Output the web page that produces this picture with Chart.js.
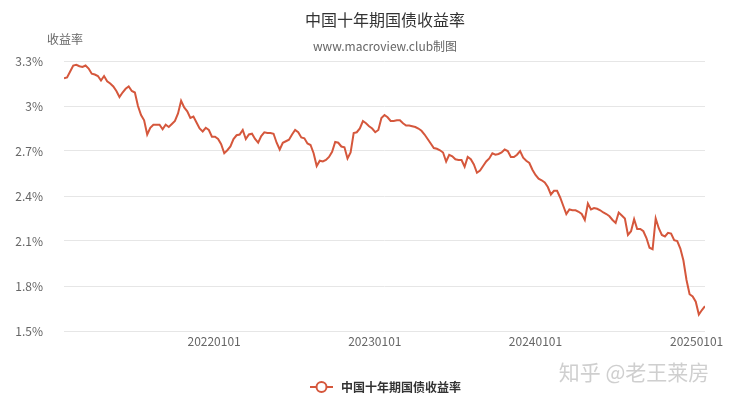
<!DOCTYPE html>
<html>
<head>
<meta charset="utf-8">
<script src="https://cdn.jsdelivr.net/npm/chart.js@4.4.1/dist/chart.umd.min.js"></script>
<style>
  html, body { margin: 0; padding: 0; background: #fff; }
</style>
</head>
<body>
<canvas id="graph" width="732" height="401"></canvas>
<script>
// weekly readings, first week starting 2021-01-25
const startDate = '20210125';
const seriesName = '中国十年期国债收益率';
const yields = [
  3.185, 3.19, 3.23, 3.27, 3.275, 3.265, 3.26, 3.27, 3.25, 3.215,
  3.21, 3.20, 3.17, 3.20, 3.165, 3.15, 3.13, 3.10, 3.06, 3.09,
  3.115, 3.13, 3.10, 3.09, 3.00, 2.94, 2.905, 2.81, 2.855, 2.875,
  2.875, 2.875, 2.845, 2.875, 2.86, 2.88, 2.90, 2.95, 3.035, 2.99,
  2.965, 2.92, 2.93, 2.89, 2.85, 2.83, 2.855, 2.84, 2.795, 2.795,
  2.78, 2.745, 2.685, 2.705, 2.73, 2.78, 2.805, 2.81, 2.84, 2.78,
  2.81, 2.815, 2.78, 2.755, 2.80, 2.825, 2.82, 2.82, 2.815, 2.755,
  2.71, 2.755, 2.765, 2.775, 2.81, 2.84, 2.825, 2.79, 2.785, 2.75,
  2.74, 2.685, 2.60, 2.635, 2.63, 2.64, 2.66, 2.695, 2.76, 2.755,
  2.73, 2.725, 2.65, 2.69, 2.82, 2.825, 2.85, 2.90, 2.885, 2.865,
  2.85, 2.825, 2.84, 2.92, 2.94, 2.925, 2.90, 2.90, 2.905, 2.905,
  2.885, 2.87, 2.87, 2.865, 2.86, 2.85, 2.835, 2.81, 2.78, 2.75,
  2.72, 2.715, 2.705, 2.69, 2.63, 2.675, 2.665, 2.645, 2.64, 2.64,
  2.595, 2.66, 2.645, 2.61, 2.555, 2.57, 2.60, 2.63, 2.65, 2.685,
  2.675, 2.68, 2.69, 2.71, 2.70, 2.66, 2.66, 2.675, 2.70, 2.655,
  2.635, 2.62, 2.575, 2.54, 2.515, 2.505, 2.49, 2.46, 2.41, 2.435,
  2.435, 2.39, 2.335, 2.28, 2.31, 2.305, 2.305, 2.295, 2.28, 2.24,
  2.35, 2.31, 2.32, 2.315, 2.305, 2.29, 2.28, 2.265, 2.24, 2.22,
  2.29, 2.27, 2.25, 2.14, 2.165, 2.245, 2.18, 2.18, 2.165, 2.12,
  2.055, 2.045, 2.25, 2.185, 2.14, 2.13, 2.155, 2.15, 2.105, 2.10,
  2.05, 1.97, 1.84, 1.745, 1.73, 1.695, 1.61, 1.64, 1.665
];
const xTickDates = ['20220101', '20230101', '20240101', '20250101'];
const yTicks = [1.5, 1.8, 2.1, 2.4, 2.7, 3.0, 3.3];
const yTickLabels = ['1.5%', '1.8%', '2.1%', '2.4%', '2.7%', '3%', '3.3%'];

const FONT = '"Noto Sans CJK SC", "Noto Sans", sans-serif';
const LINE_COLOR = '#d5573c';

function dayNum(s) {
  return Date.UTC(+s.slice(0, 4), +s.slice(4, 6) - 1, +s.slice(6, 8)) / 86400000;
}

const days = yields.map((v, i) => dayNum(startDate) + 7 * i);
const points = yields.map((v, i) => ({ x: days[i], y: v }));

const extras = {
  id: 'extras',
  afterDraw(chart) {
    const c = chart.ctx;
    c.save();
    c.textBaseline = 'middle';
    c.textAlign = 'center';
    c.fillStyle = '#333';
    c.font = '16px ' + FONT;
    c.fillText(seriesName, 385, 20);
    c.fillStyle = '#666';
    c.font = '12px ' + FONT;
    c.fillText('www.macroview.club制图', 385, 46);
    c.fillText('收益率', 65, 39);

    // legend
    const ly = 387;
    c.strokeStyle = LINE_COLOR;
    c.lineWidth = 2;
    c.beginPath();
    c.moveTo(310, ly);
    c.lineTo(333, ly);
    c.stroke();
    c.beginPath();
    c.arc(321.5, ly, 5, 0, Math.PI * 2);
    c.fillStyle = '#fff';
    c.fill();
    c.stroke();
    c.textAlign = 'left';
    c.fillStyle = '#333';
    c.font = 'bold 12px ' + FONT;
    c.fillText(seriesName, 341, ly);

    // watermark
    c.textAlign = 'center';
    c.fillStyle = 'rgba(160,160,160,0.5)';
    c.font = '21px ' + FONT;
    c.fillText('知乎 @老王莱房', 634, 372);
    c.restore();
  }
};

new Chart(document.getElementById('graph'), {
  type: 'line',
  data: {
    datasets: [{
      label: seriesName,
      data: points,
      borderColor: LINE_COLOR,
      borderWidth: 2,
      pointRadius: 0,
      tension: 0
    }]
  },
  options: {
    responsive: false,
    animation: false,
    devicePixelRatio: 1,
    layout: { padding: { top: 61, right: 27, left: 0, bottom: 0 } },
    plugins: { legend: { display: false }, tooltip: { enabled: false } },
    scales: {
      x: {
        type: 'linear',
        min: days[0],
        max: days[days.length - 1],
        grid: { display: false, drawTicks: false },
        border: { display: false },
        afterBuildTicks(scale) {
          scale.ticks = xTickDates.map(d => ({ value: dayNum(d) }));
        },
        afterFit(scale) { scale.height = 70; },
        ticks: {
          autoSkip: false,
          maxRotation: 0,
          padding: 3,
          color: '#666',
          font: { family: FONT, size: 12 },
          callback: (v, i) => xTickDates[i]
        }
      },
      y: {
        min: 1.5,
        max: 3.3,
        afterBuildTicks(scale) {
          scale.ticks = yTicks.map(v => ({ value: v }));
        },
        afterFit(scale) { scale.width = 64; },
        grid: { color: '#e6e6e6', drawTicks: false },
        border: { display: false },
        ticks: {
          padding: 21,
          color: '#666',
          font: { family: FONT, size: 12 },
          callback: (v, i) => yTickLabels[i]
        }
      }
    }
  },
  plugins: [extras]
});
</script>
</body>
</html>
